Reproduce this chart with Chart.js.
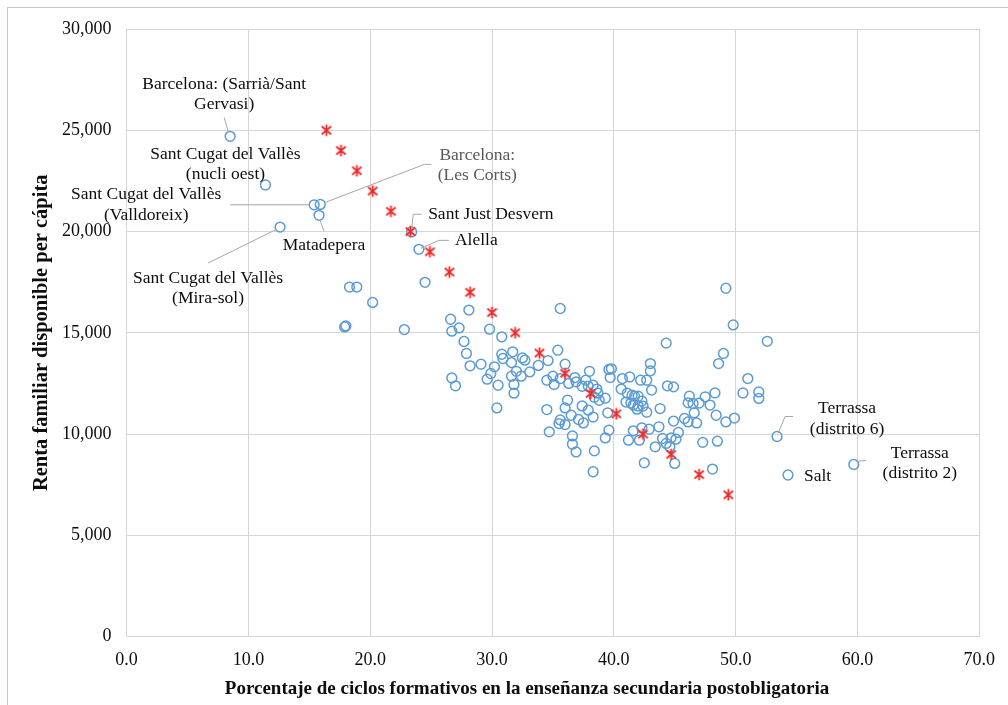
<!DOCTYPE html>
<html>
<head>
<meta charset="utf-8">
<script src="https://cdn.jsdelivr.net/npm/chart.js@4.4.1/dist/chart.umd.min.js"></script>
<style>
  html, body { margin: 0; padding: 0; background: #fff; overflow: hidden; }
  #wrap { position: relative; width: 1008px; height: 705px; }
  #frame { position: absolute; left: 7px; top: 7px; width: 1100px; height: 800px;
           border: 1px solid #c9c9c9; pointer-events: none; }
</style>
</head>
<body>
<div id="wrap">
  <canvas id="c" width="1008" height="705"></canvas>
  <div id="frame"></div>
</div>
<script>
// Municipalities / districts that carry a name on the chart
const labelledPlaces = [
  'Barcelona: (Sarrià/Sant\nGervasi)',
  'Sant Cugat del Vallès\n(nucli oest)',
  'Sant Cugat del Vallès\n(Valldoreix)',
  'Barcelona:\n(Les Corts)',
  'Matadepera',
  'Sant Cugat del Vallès\n(Mira-sol)',
  'Sant Just Desvern',
  'Alella',
  'Terrassa\n(distrito 6)',
  'Salt',
  'Terrassa\n(distrito 2)'
];
const labelledPct   = [8.5, 11.4, 15.4, 15.9, 15.8, 12.6, 23.4, 24.0, 53.4, 54.3, 59.7];
const labelledRenta = [24700, 22300, 21320, 21340, 20800, 20220, 19980, 19120, 9880, 7980, 8500];

// Remaining territories: % of vocational cycles vs. disposable family income per capita
const otherPct = [
  18.3, 18.9, 24.5, 20.2, 17.9, 18.0, 22.8, 28.1, 26.6, 26.7, 27.3, 27.7, 27.9, 28.2, 29.1, 29.8,
  30.8, 30.8, 30.9, 30.2, 29.9, 29.6, 30.5, 26.7, 27.0, 30.4, 35.6, 49.2, 49.8, 52.6, 44.3, 31.7,
  31.6, 32.5, 32.7, 35.4, 34.6, 33.8, 32.0, 31.6, 32.4, 33.1, 31.8, 31.8, 36.0, 34.5, 35.0, 35.1,
  35.6, 36.3, 36.8, 36.9, 37.7, 38.0, 37.4, 37.9, 38.3, 38.6, 38.7, 38.4, 38.8, 39.3, 36.2, 36.0,
  34.5, 36.5, 35.6, 35.5, 36.0, 37.4, 37.9, 37.1, 37.5, 38.3, 39.5, 39.6, 39.8, 39.7, 40.7, 41.3,
  40.6, 42.2, 42.7, 43.0, 43.0, 43.1, 41.1, 41.5, 41.7, 42.0, 41.0, 41.4, 41.6, 42.0, 42.4, 41.9,
  42.7, 42.3, 43.8, 44.4, 44.9, 46.2, 46.1, 46.5, 47.0, 47.5, 47.9, 48.3, 48.4, 48.6, 49.0, 50.6,
  51.0, 51.9, 51.9, 44.9, 45.8, 46.1, 46.8, 49.2, 49.9, 47.3, 48.5, 48.1, 45.0, 42.5, 38.3, 44.0,
  44.3, 44.6, 44.7, 45.1, 45.3, 43.4, 43.7, 42.9, 42.3, 41.6, 41.2, 42.1, 39.3, 39.6, 36.6, 36.6,
  36.9, 38.4, 34.7, 46.6
];
const otherRenta = [
  17260, 17260, 17490, 16500, 15290, 15340, 15160, 16120, 15670, 15080, 15240, 14570, 13980, 13370, 13450, 15180,
  14800, 13940, 13730, 13320, 12990, 12710, 12410, 12770, 12380, 11290, 16200, 17200, 15390, 14580, 14490, 14060,
  13530, 13760, 13650, 14140, 13630, 13390, 13100, 12860, 12860, 13070, 12450, 12020, 13450, 12660, 12860, 12450,
  12740, 12500, 12790, 12580, 12660, 13100, 12360, 12360, 12410, 12220, 12020, 11820, 11670, 11770, 11670, 11290,
  11210, 10930, 10700, 10520, 10470, 11390, 11180, 10720, 10550, 10840, 11050, 13190, 13220, 12790, 12740, 12820,
  12220, 12660, 12660, 13480, 13120, 12170, 12020, 11920, 11870, 11870, 11580, 11530, 11430, 11380, 11380, 11230,
  11080, 11630, 11260, 12380, 12330, 11870, 11540, 11510, 11530, 11840, 11430, 12030, 10930, 13480, 13980, 12030,
  12740, 12080, 11760, 10640, 10770, 10600, 10550, 10600, 10790, 9590, 9650, 8270, 8550, 8580, 8140, 9780,
  9540, 9370, 9810, 9750, 10080, 9370, 10360, 10240, 10310, 10160, 9700, 9700, 9810, 10190, 9910, 9500,
  9120, 9170, 10110, 11050
];

// Fitted relationship (red asterisks)
const trendPct   = [16.4, 17.6, 18.9, 20.2, 21.7, 23.3, 24.9, 26.5, 28.2, 30.0, 31.9, 33.9, 36.0, 38.1, 40.2, 42.4, 44.7, 47.0, 49.4];
const trendRenta = [25000, 24000, 23000, 22000, 21000, 20000, 19000, 18000, 17000, 16000, 15000, 14000, 13000, 12000, 11000, 10000, 9000, 8000, 7000];

// Axis ticks
const xTicks = [0, 10, 20, 30, 40, 50, 60, 70];
const yTicks = [0, 5000, 10000, 15000, 20000, 25000, 30000];

const xTitle = 'Porcentaje de ciclos formativos en la enseñanza secundaria postobligatoria';
const yTitle = 'Renta familiar disponible per cápita';

// Where each name sits relative to its marker (px) and the leader line path
const callouts = [
  { dx: -6,   dy: -52,   align: 'center', leader: [[-2, -5], [-6, -19]] },
  { dx: -40,  dy: -31,   align: 'center' },
  { dx: -168, dy: -10,   align: 'center', leader: [[-84, 0], [-5, 0]] },
  { dx: 157,  dy: -49,   align: 'center', color: '#595959', leader: [[5, -2], [104, -40], [111, -40]] },
  { dx: 5,    dy: 30,    align: 'center', leader: [[1, 5], [5, 16]] },
  { dx: -72,  dy: 51,    align: 'center', leader: [[-3, 2], [-72, 36]] },
  { dx: 16.5, dy: -17.5, align: 'left',   leader: [[0, -3], [1.6, -17.7], [10, -17.7]] },
  { dx: 36,   dy: -9,    align: 'left',   leader: [[2, -1], [20, -9], [30, -9]] },
  { dx: 70,   dy: -28,   align: 'center', leader: [[1, -3], [8, -20], [16, -20]] },
  { dx: 16,   dy: 1,     align: 'left' },
  { dx: 66,   dy: -11.5, align: 'center', leader: [[2, -3], [12, -4]] }
];

const SERIF = '"Liberation Serif", "Times New Roman", serif';

// Asterisk marker: an X crossed by a vertical stroke
function asteriskMarker() {
  const s = 13, c = document.createElement('canvas');
  c.width = s; c.height = s;
  const g = c.getContext('2d');
  g.strokeStyle = '#f02a2a';
  g.lineWidth = 1.8;
  g.beginPath();
  g.moveTo(1.8, 2.5); g.lineTo(11.2, 10.5);
  g.moveTo(11.2, 2.5); g.lineTo(1.8, 10.5);
  g.moveTo(6.5, 0.8); g.lineTo(6.5, 12.2);
  g.stroke();
  return c;
}

const toPoints = (xs, ys) => xs.map((v, i) => ({ x: v, y: ys[i] }));

const calloutPlugin = {
  id: 'callouts',
  afterDatasetsDraw(chart) {
    const { ctx, scales: { x, y } } = chart;
    ctx.save();
    callouts.forEach((c, i) => {
      const px = x.getPixelForValue(labelledPct[i]);
      const py = y.getPixelForValue(labelledRenta[i]);
      if (c.leader) {
        ctx.beginPath();
        c.leader.forEach(([dx, dy], k) => k ? ctx.lineTo(px + dx, py + dy) : ctx.moveTo(px + dx, py + dy));
        ctx.strokeStyle = '#a6a6a6';
        ctx.lineWidth = 1;
        ctx.stroke();
      }
      ctx.font = '17.5px ' + SERIF;
      ctx.fillStyle = c.color || '#0d0d0d';
      ctx.textAlign = c.align;
      ctx.textBaseline = 'middle';
      labelledPlaces[i].split('\n').forEach((line, k) => {
        ctx.fillText(line, px + c.dx, py + c.dy + k * 20.5);
      });
    });
    ctx.restore();
  },
  afterDraw(chart) {
    const { ctx } = chart;
    ctx.save();
    ctx.font = 'bold 19px ' + SERIF;
    ctx.fillStyle = '#0d0d0d';
    ctx.textAlign = 'center';
    ctx.textBaseline = 'middle';
    ctx.fillText(xTitle, 527, 689);
    ctx.restore();
  }
};

new Chart(document.getElementById('c'), {
  type: 'scatter',
  data: {
    datasets: [
      {
        label: 'Ajuste',
        data: toPoints(trendPct, trendRenta),
        pointStyle: asteriskMarker(),
        pointRadius: 6.5
      },
      {
        label: 'Territorios',
        data: toPoints(labelledPct.concat(otherPct), labelledRenta.concat(otherRenta)),
        pointStyle: 'circle',
        pointRadius: 4.9,
        borderWidth: 1.5,
        borderColor: '#5b9bd5',
        backgroundColor: 'rgba(0,0,0,0)'
      }
    ]
  },
  options: {
    responsive: false,
    animation: false,
    events: [],
    layout: { padding: { top: 29, right: 28.5, left: 0, bottom: 0 } },
    plugins: { legend: { display: false }, tooltip: { enabled: false } },
    scales: {
      x: {
        type: 'linear',
        min: 0, max: 70,
        afterBuildTicks: s => { s.ticks = xTicks.map(v => ({ value: v })); },
        afterFit: s => { s.height = 68.4; },
        grid: { color: '#d6d6d6', drawTicks: false },
        border: { color: '#d6d6d6' },
        ticks: {
          padding: 13,
          color: '#0d0d0d',
          font: { family: SERIF, size: 18 },
          callback: v => Number(v).toFixed(1)
        }
      },
      y: {
        type: 'linear',
        min: 0, max: 30000,
        afterBuildTicks: s => { s.ticks = yTicks.map(v => ({ value: v })); },
        afterFit: s => { s.width = 126.6; },
        grid: { color: '#d6d6d6', drawTicks: false },
        border: { color: '#d6d6d6' },
        ticks: {
          padding: 15,
          color: '#0d0d0d',
          font: { family: SERIF, size: 18 },
          callback: v => Number(v).toLocaleString('en-US')
        },
        title: {
          display: true,
          text: yTitle,
          color: '#0d0d0d',
          font: { family: SERIF, size: 20.5, weight: 'bold' },
          padding: { top: 29.7, bottom: 0 }
        }
      }
    }
  },
  plugins: [calloutPlugin]
});
</script>
</body>
</html>
